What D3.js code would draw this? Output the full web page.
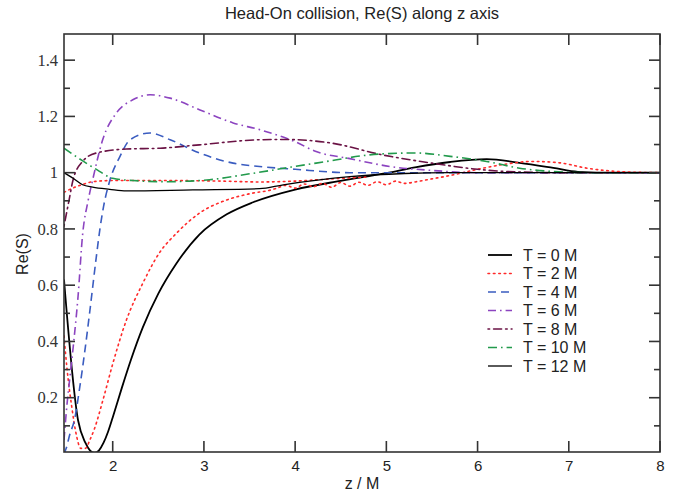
<!DOCTYPE html>
<html><head><meta charset="utf-8">
<script src="https://cdn.jsdelivr.net/npm/d3@7"></script>
<style>body{margin:0;background:#fff}svg{display:block}</style>
</head><body>
<svg id="chart" width="680" height="494"></svg>
<script>
const titleText = "Head-On collision, Re(S) along z axis";
const xLabel = "z / M";
const yLabel = "Re(S)";
const xTicks = [2, 3, 4, 5, 6, 7, 8];
const yTicks = [0.2, 0.4, 0.6, 0.8, 1.0, 1.2, 1.4];
const yMinorTicks = [0.1, 0.3, 0.5, 0.7, 0.9, 1.1, 1.3];
const seriesNames = ["T = 0 M", "T = 2 M", "T = 4 M", "T = 6 M", "T = 8 M", "T = 10 M", "T = 12 M"];

// [z, Re(S)] pairs
const t0 = [[1.466,0.62],[1.62,0.12],[1.7,0.04],[1.75,0.013],[1.8,0.004],[1.85,0.013],[1.9,0.04],[1.95,0.08],[2.0,0.13],[2.1,0.235],[2.2,0.335],[2.33,0.45],[2.5,0.57],[2.7,0.678],[2.95,0.78],[3.25,0.852],[3.54,0.895],[4.0,0.94],[4.5,0.971],[5.0,0.998],[5.33,1.02],[5.7,1.038],[6.1,1.048],[6.46,1.035],[6.83,1.017],[7.1,1.003],[7.5,1.0],[8.0,1.0]];
const t2 = [[1.466,0.42],[1.5,0.3],[1.55,0.17],[1.6,0.07],[1.65,0.02],[1.7,0.02],[1.75,0.05],[1.8,0.09],[1.9,0.2],[2.0,0.32],[2.15,0.476],[2.33,0.607],[2.51,0.714],[2.7,0.785],[2.95,0.856],[3.25,0.903],[3.5,0.925],[3.75,0.94],[3.8,0.945],[3.9,0.955],[4.0,0.945],[4.1,0.96],[4.2,0.95],[4.3,0.962],[4.4,0.948],[4.5,0.965],[4.6,0.952],[4.7,0.966],[4.8,0.955],[4.9,0.968],[5.0,0.957],[5.1,0.97],[5.2,0.962],[5.33,0.968],[5.5,0.978],[5.7,0.99],[6.0,1.012],[6.3,1.03],[6.6,1.04],[6.9,1.035],[7.2,1.016],[7.6,1.003],[8.0,1.0]];
const t2b = [[1.466,0.93],[1.56,0.945],[1.67,0.958],[1.78,0.968],[2.0,0.972],[2.6,0.972],[3.2,0.97],[3.6,0.967],[4.0,0.97],[4.4,0.978],[4.8,0.985]];
const t4 = [[1.466,0.0],[1.49,0.02],[1.53,0.07],[1.58,0.12],[1.64,0.24],[1.7,0.38],[1.75,0.51],[1.82,0.70],[1.86,0.80],[1.9,0.88],[1.97,0.974],[2.08,1.058],[2.19,1.117],[2.41,1.141],[2.63,1.117],[2.95,1.07],[3.32,1.034],[3.61,1.022],[4.0,1.012],[4.6,1.0],[5.0,1.0],[8.0,1.0]];
const t6 = [[1.466,0.05],[1.5,0.18],[1.53,0.27],[1.57,0.39],[1.62,0.56],[1.67,0.78],[1.73,0.9],[1.78,0.974],[1.89,1.117],[2.04,1.212],[2.22,1.259],[2.41,1.277],[2.63,1.265],[2.95,1.224],[3.32,1.177],[3.61,1.153],[4.0,1.11],[4.23,1.075],[4.6,1.05],[5.04,1.022],[5.5,1.008],[6.0,1.0],[8.0,1.0]];
const t8 = [[1.466,0.81],[1.52,0.9],[1.565,0.974],[1.67,1.04],[1.82,1.07],[2.15,1.084],[2.52,1.087],[2.95,1.099],[3.61,1.117],[3.9,1.118],[4.4,1.105],[4.96,1.063],[5.5,1.034],[6.0,1.012],[6.5,1.002],[7.0,1.0],[8.0,1.0]];
const t10 = [[1.466,1.087],[1.68,1.04],[1.83,1.01],[2.0,0.98],[2.22,0.972],[2.59,0.968],[3.06,0.975],[3.5,0.996],[4.23,1.034],[4.96,1.067],[5.33,1.07],[5.7,1.058],[6.1,1.04],[6.46,1.016],[6.83,1.004],[7.2,1.0],[8.0,1.0]];
const t12 = [[1.466,1.0],[1.565,0.98],[1.67,0.957],[1.78,0.949],[1.967,0.941],[2.15,0.935],[2.88,0.939],[3.61,0.943],[3.87,0.957],[4.6,0.986],[5.2,0.997],[5.7,1.0],[8.0,1.0]];

const styles = [
  {color:"#000000", width:1.8, dash:null},
  {color:"#ff2a2a", width:1.6, dash:"1.6,3.8"},
  {color:"#3a5cc0", width:1.6, dash:"8,5"},
  {color:"#8c44c0", width:1.6, dash:"8,4,1.6,4"},
  {color:"#6a1244", width:1.6, dash:"1.6,4,8,4"},
  {color:"#229a4c", width:1.6, dash:"9,4,1.6,4"},
  {color:"#000000", width:1.3, dash:null}
];
const curves = [
  {data:t0, s:0},{data:t2, s:1},{data:t2b, s:1},{data:t4, s:2},
  {data:t6, s:3},{data:t8, s:4},{data:t10, s:5},{data:t12, s:6}
];

const PL = 64, PR = 660, PT = 34, PB = 452;
const x = d3.scaleLinear().domain([1.466, 8]).range([PL, PR]);
const y = d3.scaleLinear().domain([0.007, 1.493]).range([PB, PT]);
const svg = d3.select("#chart");

svg.append("defs").append("clipPath").attr("id","clip")
  .append("rect").attr("x",PL).attr("y",PT).attr("width",PR-PL).attr("height",PB-PT);

const line = d3.line().x(d => x(d[0])).y(d => y(d[1])).curve(d3.curveMonotoneX);
const g = svg.append("g").attr("clip-path","url(#clip)");
curves.forEach(c => {
  const st = styles[c.s];
  g.append("path").attr("d", line(c.data)).attr("fill","none")
    .attr("stroke", st.color).attr("stroke-width", st.width)
    .attr("stroke-dasharray", st.dash).attr("stroke-linecap", st.dash && st.dash.startsWith("1.6") ? "round" : "butt");
});

const axC = "#333";
// tick labels via d3 axes
const axBottom = svg.append("g").attr("transform",`translate(0,${PB})`)
  .call(d3.axisBottom(x).tickValues(xTicks).tickSize(0).tickPadding(8).tickFormat(d3.format("d")));
const axLeft = svg.append("g").attr("transform",`translate(${PL},0)`)
  .call(d3.axisLeft(y).tickValues(yTicks).tickSize(0).tickPadding(6).tickFormat(d => d === 1 ? "1" : d3.format(".1f")(d)));
[axBottom, axLeft].forEach(a => a.select(".domain").remove());
axBottom.selectAll("text").attr("font-family","'Liberation Sans', Arial, sans-serif").attr("font-size",15).attr("fill","#222");
axLeft.selectAll("text").attr("font-family","'Liberation Serif', 'Times New Roman', serif").attr("font-size",16.5).attr("fill","#333");

// inward ticks on all four sides
const tk = svg.append("g").attr("stroke", axC).attr("stroke-width", 1.6);
xTicks.forEach(v => {
  tk.append("line").attr("x1",x(v)).attr("x2",x(v)).attr("y1",PB).attr("y2",PB-11);
  tk.append("line").attr("x1",x(v)).attr("x2",x(v)).attr("y1",PT).attr("y2",PT+11);
});
yTicks.forEach(v => {
  tk.append("line").attr("x1",PL).attr("x2",PL+11).attr("y1",y(v)).attr("y2",y(v));
  tk.append("line").attr("x1",PR).attr("x2",PR-11).attr("y1",y(v)).attr("y2",y(v));
});
yMinorTicks.forEach(v => {
  tk.append("line").attr("x1",PL).attr("x2",PL+6).attr("y1",y(v)).attr("y2",y(v));
  tk.append("line").attr("x1",PR).attr("x2",PR-6).attr("y1",y(v)).attr("y2",y(v));
});

svg.append("rect").attr("x",PL).attr("y",PT).attr("width",PR-PL).attr("height",PB-PT)
  .attr("fill","none").attr("stroke",axC).attr("stroke-width",1.6);

// titles
svg.append("text").attr("x",(PL+PR)/2).attr("y",19).attr("text-anchor","middle")
  .attr("font-family","'Liberation Sans', Arial, sans-serif").attr("font-size",16.5).attr("fill","#222").text(titleText);
svg.append("text").attr("x",(PL+PR)/2).attr("y",489).attr("text-anchor","middle")
  .attr("font-family","'Liberation Sans', Arial, sans-serif").attr("font-size",16).attr("fill","#222").text(xLabel);
svg.append("text").attr("transform","translate(28,254) rotate(-90)").attr("text-anchor","middle")
  .attr("font-family","'Liberation Sans', Arial, sans-serif").attr("font-size",16).attr("fill","#222").text(yLabel);

// legend
const leg = svg.append("g");
seriesNames.forEach((name, i) => {
  const st = styles[i];
  const yy = 255 + i * 18.5;
  leg.append("line").attr("x1",488).attr("x2",512).attr("y1",yy).attr("y2",yy)
    .attr("stroke",st.color).attr("stroke-width",st.width).attr("stroke-dasharray",st.dash)
    .attr("stroke-linecap", st.dash && st.dash.startsWith("1.6") ? "round" : "butt");
  leg.append("text").attr("x",523).attr("y",yy).attr("dy","0.36em")
    .attr("font-family","'Liberation Sans', Arial, sans-serif").attr("font-size",16).attr("fill","#222").text(name);
});
</script>
</body></html>
